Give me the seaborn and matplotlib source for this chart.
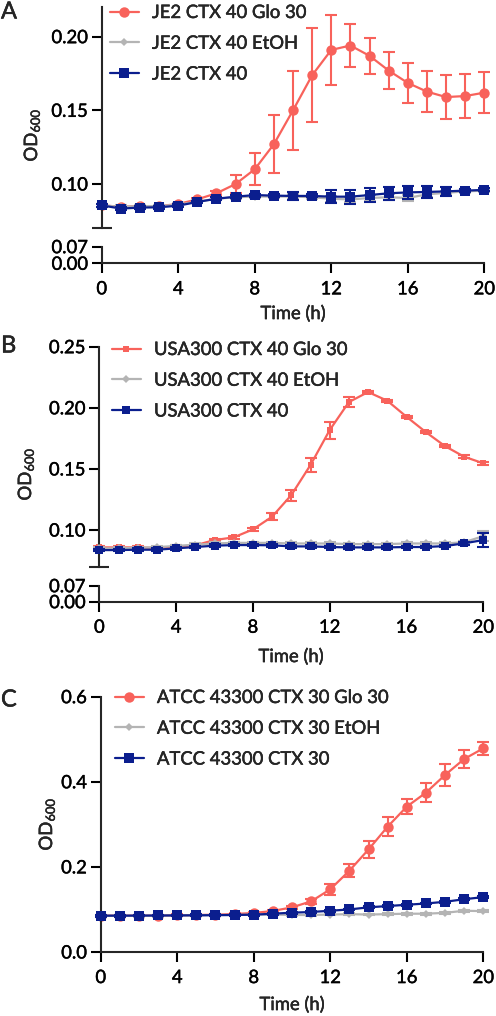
import numpy as np
import pandas as pd
import matplotlib
matplotlib.use("Agg")
import matplotlib.pyplot as plt
import matplotlib.patheffects as pe
from matplotlib.lines import Line2D
import seaborn as sns

# ---------------- data ----------------
time_h = list(range(21))

# Panel A (JE2)
a_labels = ["JE2 CTX 40 Glo 30", "JE2 CTX 40 EtOH", "JE2 CTX 40"]
a_glo = [0.0855, 0.0846, 0.085, 0.085, 0.0864, 0.0896, 0.0937, 0.100, 0.110, 0.127,
         0.150, 0.1738, 0.191, 0.194, 0.187, 0.177, 0.1686, 0.1627, 0.159, 0.1597, 0.162]
a_glo_sd = [0.001, 0.001, 0.001, 0.001, 0.001, 0.001, 0.0015, 0.006, 0.011, 0.0195,
            0.027, 0.032, 0.024, 0.0145, 0.012, 0.0127, 0.0136, 0.014, 0.0147, 0.015, 0.014]
a_etoh = [0.0855, 0.0845, 0.085, 0.085, 0.086, 0.088, 0.090, 0.091, 0.0915, 0.0915,
          0.0915, 0.091, 0.090, 0.0895, 0.0905, 0.091, 0.0905, 0.093, 0.094, 0.095, 0.0955]
a_etoh_sd = [0.001, 0.001, 0.001, 0.001, 0.001, 0.001, 0.001, 0.001, 0.001, 0.001,
             0.0015, 0.0015, 0.002, 0.002, 0.002, 0.002, 0.002, 0.0015, 0.001, 0.001, 0.001]
a_ctx = [0.0855, 0.0833, 0.084, 0.0842, 0.0853, 0.0878, 0.090, 0.0914, 0.0925, 0.0921,
         0.0919, 0.0919, 0.0914, 0.0914, 0.0925, 0.0937, 0.0943, 0.0946, 0.095, 0.0955, 0.096]
a_ctx_sd = [0.001, 0.001, 0.001, 0.001, 0.001, 0.001, 0.001, 0.001, 0.001, 0.001,
            0.003, 0.001, 0.0045, 0.0048, 0.0045, 0.0045, 0.0045, 0.0038, 0.003, 0.001, 0.001]

# Panel B (USA300)
b_labels = ["USA300 CTX 40 Glo 30", "USA300 CTX 40 EtOH", "USA300 CTX 40"]
b_glo = [0.0858, 0.0858, 0.0858, 0.0853, 0.0864, 0.0875, 0.0918, 0.094, 0.1005, 0.1109,
         0.1286, 0.1532, 0.1818, 0.2047, 0.2129, 0.2058, 0.1927, 0.1802, 0.1687, 0.160, 0.1546]
b_glo_sd = [0.001, 0.001, 0.001, 0.001, 0.001, 0.001, 0.001, 0.001, 0.001, 0.003,
            0.0045, 0.006, 0.007, 0.004, 0.001, 0.001, 0.001, 0.001, 0.001, 0.001, 0.001]
b_etoh = [0.085, 0.085, 0.0855, 0.086, 0.087, 0.088, 0.089, 0.0895, 0.0895, 0.0895,
          0.089, 0.089, 0.089, 0.0885, 0.0885, 0.0885, 0.089, 0.089, 0.089, 0.090, 0.095]
b_etoh_sd = [0.001] * 20 + [0.004]
b_ctx = [0.0836, 0.0836, 0.0839, 0.0839, 0.085, 0.0861, 0.0872, 0.0877, 0.0877, 0.0875,
         0.0866, 0.0866, 0.0861, 0.0858, 0.0858, 0.0858, 0.0861, 0.0861, 0.0869, 0.0891, 0.0918]
b_ctx_sd = [0.001] * 20 + [0.006]

# Panel C (ATCC 43300)
c_labels = ["ATCC 43300 CTX 30 Glo 30", "ATCC 43300 CTX 30 EtOH", "ATCC 43300 CTX 30"]
c_glo = [0.0854, 0.0854, 0.0854, 0.0854, 0.0862, 0.087, 0.0877, 0.0893, 0.0917, 0.0964,
         0.105, 0.119, 0.1473, 0.191, 0.241, 0.2946, 0.3416, 0.3745, 0.416, 0.4536, 0.4786]
c_glo_sd = [0.002, 0.002, 0.002, 0.002, 0.002, 0.002, 0.002, 0.002, 0.002, 0.003,
            0.004, 0.006, 0.013, 0.015, 0.02, 0.022, 0.018, 0.022, 0.025, 0.02, 0.016]
c_etoh = [0.085, 0.085, 0.085, 0.085, 0.086, 0.086, 0.087, 0.087, 0.088, 0.088,
          0.087, 0.087, 0.088, 0.089, 0.088, 0.089, 0.090, 0.090, 0.092, 0.097, 0.096]
c_etoh_sd = [0.002] * 21
c_ctx = [0.0854, 0.0854, 0.0856, 0.0858, 0.086, 0.0862, 0.0866, 0.087, 0.0877, 0.090,
         0.0924, 0.094, 0.097, 0.100, 0.105, 0.108, 0.111, 0.114, 0.118, 0.124, 0.129]
c_ctx_sd = [0.002] * 21

x_ticks = [0, 4, 8, 12, 16, 20]

# ---------------- style ----------------
sns.set_theme(style="ticks")
plt.rcParams["font.family"] = ["Lato", "DejaVu Sans"]
plt.rcParams["mathtext.fontset"] = "custom"
plt.rcParams["mathtext.rm"] = "Lato"
plt.rcParams["mathtext.it"] = "Lato:italic"
plt.rcParams["axes.linewidth"] = 1.5

RED = "#F8625B"
GRAY = "#B4B4B4"
BLUE = "#0B1E8E"
FS = 13.3
HEAVY = [pe.withStroke(linewidth=0.3, foreground="black")]

W, H = 496, 1016
fig = plt.figure(figsize=(W / 100, H / 100), dpi=100)


def rect(l, r, t, b):
    return [l / W, 1 - b / H, (r - l) / W, (b - t) / H]


def style_ticks(ax):
    ax.tick_params(axis="both", which="major", direction="out", length=7, width=1.5,
                   labelsize=FS, color="black", labelcolor="black")
    ax.tick_params(axis="y", pad=3)
    ax.tick_params(axis="x", pad=6)
    for lab in ax.get_xticklabels() + ax.get_yticklabels():
        lab.set_path_effects(HEAVY)


def draw_series(ax, means, sds, color, marker, ms, z):
    df = pd.DataFrame({"t": time_h, "od": means})
    ax.errorbar(time_h, means, yerr=sds, fmt="none", ecolor=color, elinewidth=1.5,
                capsize=4.5, capthick=1.5, zorder=z, clip_on=False)
    sns.lineplot(data=df, x="t", y="od", ax=ax, color=color, marker=marker,
                 markersize=ms, markeredgewidth=0, linewidth=1.6, zorder=z + 0.5,
                 clip_on=False, legend=False)


def panel(lrect, top_lim, yticks, ytlabels, series, broken, low_rect=None):
    ax = fig.add_axes(lrect)
    for (m, s, c, mk, ms), z in zip(series, [2, 3, 4]):
        draw_series(ax, m, s, c, mk, ms, z)
    ax.set_xlim(0, 20)
    ax.set_ylim(*top_lim)
    ax.set_yticks(yticks)
    ax.set_yticklabels(ytlabels)
    ax.set_xlabel("")
    ax.set_ylabel("")
    ax.spines["top"].set_visible(False)
    ax.spines["right"].set_visible(False)
    if broken:
        ax.spines["bottom"].set_visible(False)
        ax.tick_params(axis="x", which="both", bottom=False, labelbottom=False)
        ax.set_yticks([top_lim[0]], minor=True)
        ax.tick_params(axis="y", which="minor", direction="inout", length=15, width=1.5)
        style_ticks(ax)
        low = fig.add_axes(low_rect)
        low.set_xlim(0, 20)
        low.set_ylim(0, 0.07)
        low.set_yticks([0.0, 0.07])
        low.set_yticklabels(["0.00", "0.07"])
        low.set_yticks([0.07], minor=True)
        low.spines["top"].set_visible(False)
        low.spines["right"].set_visible(False)
        low.patch.set_alpha(0)
        low.set_xticks(x_ticks)
        low.set_xticklabels([str(v) for v in x_ticks])
        style_ticks(low)
        low.tick_params(axis="y", which="minor", direction="inout", length=17, width=1.5)
    else:
        ax.set_xticks(x_ticks)
        ax.set_xticklabels([str(v) for v in x_ticks])
        style_ticks(ax)
    return ax


def add_legend(labels, series, x_px, y_px):
    handles = [Line2D([], [], color=c, marker=mk, markersize=ms, markeredgewidth=0,
                      linewidth=1.6) for (_, _, c, mk, ms) in series]
    leg = fig.legend(handles, labels, loc="upper left",
                     bbox_to_anchor=(x_px / W, 1 - y_px / H), bbox_transform=fig.transFigure,
                     frameon=False, fontsize=FS, handlelength=1.55, handletextpad=0.72,
                     labelspacing=0.8, borderpad=0, borderaxespad=0)
    for t in leg.get_texts():
        t.set_path_effects(HEAVY)


# ---------- Panel A ----------
a_series = [(a_glo, a_glo_sd, RED, "o", 7.5),
            (a_etoh, a_etoh_sd, GRAY, "D", 4),
            (a_ctx, a_ctx_sd, BLUE, "s", 7)]
panel(rect(101.7, 484.3, 7.2, 228.2), (0.07, 0.22), [0.10, 0.15, 0.20],
      ["0.10", "0.15", "0.20"], a_series, True, rect(101.7, 484.3, 246.7, 263.3))
add_legend(a_labels, a_series, 110, 5)

# ---------- Panel B ----------
b_series = [(b_glo, b_glo_sd, RED, "s", 4.8),
            (b_etoh, b_etoh_sd, GRAY, "D", 4),
            (b_ctx, b_ctx_sd, BLUE, "s", 5.2)]
panel(rect(99.3, 483.3, 346.7, 566.7), (0.07, 0.25), [0.10, 0.15, 0.20, 0.25],
      ["0.10", "0.15", "0.20", "0.25"], b_series, True, rect(99.3, 483.3, 585.7, 601.7))
add_legend(b_labels, b_series, 112, 342)

# ---------- Panel C ----------
c_series = [(c_glo, c_glo_sd, RED, "o", 7.5),
            (c_etoh, c_etoh_sd, GRAY, "D", 4),
            (c_ctx, c_ctx_sd, BLUE, "s", 7)]
panel(rect(100.7, 483.3, 696.7, 952), (0.0, 0.6), [0.0, 0.2, 0.4, 0.6],
      ["0.0", "0.2", "0.4", "0.6"], c_series, False)
add_legend(c_labels, c_series, 115, 690)

# ---------- labels ----------
for (xp, yp) in [(32, 135), (26, 474), (47, 824)]:
    fig.text(xp / W, 1 - yp / H, "OD$_{600}$", rotation=90, ha="center", va="center",
             fontsize=FS, path_effects=HEAVY)
for (xp, yp) in [(293, 314), (291, 657), (292, 1005)]:
    fig.text(xp / W, 1 - yp / H, "Time (h)", ha="center", va="center", fontsize=FS,
             path_effects=HEAVY)
for (lab, xp, yp) in [("A", 1, 12), ("B", 1, 346), ("C", 1, 700)]:
    fig.text(xp / W, 1 - yp / H, lab, ha="left", va="center", fontsize=17,
             path_effects=HEAVY)

fig.savefig("out.png", dpi=100)
